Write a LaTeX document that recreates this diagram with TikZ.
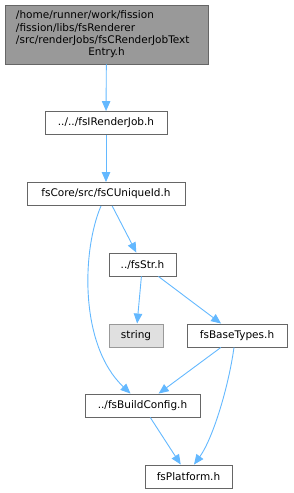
\documentclass[tikz,border=0pt]{standalone}
\usepackage{fontspec}
\setmainfont{DejaVu Sans}
\usetikzlibrary{arrows.meta, positioning}
\definecolor{edgeblue}{HTML}{63B8FF}
\definecolor{boxgrey}{HTML}{666666}
\definecolor{topfill}{HTML}{999999}
\definecolor{sysfill}{HTML}{E0E0E0}

\begin{document}
\begin{tikzpicture}[
    x=1pt, y=-1pt,
    hdr/.style={draw=boxgrey, fill=white, line width=0.9pt,
        minimum height=23pt, inner sep=2pt,
        font=\fontsize{10.5}{12.3}\selectfont, text=black},
    tophdr/.style={hdr, fill=topfill, minimum width=203pt, minimum height=59pt,
        text width=181pt, align=left},
    syshdr/.style={hdr, draw=topfill, fill=sysfill},
    dep/.style={draw=edgeblue, line width=0.9pt,
        -{Triangle[length=10pt, width=8.5pt]}}
]
\useasboundingbox (0,0) rectangle (293,493);

\node[tophdr] (entry) at (106.5,34.5) {/home/runner/work/fission\\
    /fission/libs/fsRenderer\\
    /src/renderJobs/fsCRenderJobText\\
    \hspace*{\fill}Entry.h\hspace*{\fill}};

\node[hdr, minimum width=122pt] (job) at (106,123) {../../fsIRenderJob.h};
\node[hdr, minimum width=158pt] (uid) at (106,194) {fsCore/src/fsCUniqueId.h};
\node[hdr, minimum width=67pt] (str) at (142.5,264.5) {../fsStr.h};
\node[syshdr, minimum width=54pt] (string) at (136,335.5) {string};
\node[hdr, minimum width=100pt] (types) at (237,335.5) {fsBaseTypes.h};
\node[hdr, minimum width=115pt] (config) at (142.5,405.5) {../fsBuildConfig.h};
\node[hdr, minimum width=87pt] (platform) at (188.5,476.5) {fsPlatform.h};

\draw[dep] (entry) -- (job);
\draw[dep] (job) -- (uid);
\draw[dep] (uid) -- (str);
\draw[dep] ([xshift=-5pt]uid.south) .. controls (82,250) and (79,345) .. ([xshift=-12pt]config.north);
\draw[dep] (str) -- (string);
\draw[dep] (str) -- (types);
\draw[dep] (types) -- (config);
\draw[dep] ([xshift=-3pt]types.south) .. controls (228,390) and (212,440) .. ([xshift=5.5pt]platform.north);
\draw[dep] (config) -- (platform);

\end{tikzpicture}
\end{document}
